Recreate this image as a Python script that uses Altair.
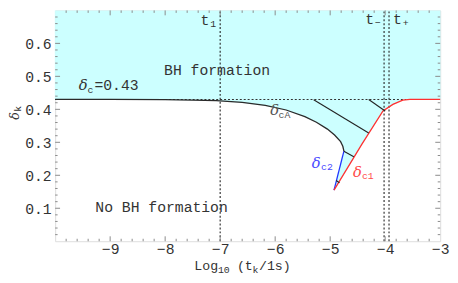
import altair as alt
import pandas as pd
import numpy as np

# ---- data ----
dcA_x = [-10.0, -9.0, -8.0, -7.5, -7.07, -6.6, -6.18, -5.8, -5.46, -5.25, -5.05, -4.92, -4.81, -4.77, -4.75]
dcA_y = [0.430, 0.430, 0.4295, 0.428, 0.4265, 0.421, 0.412, 0.398, 0.378, 0.361, 0.340, 0.322, 0.302, 0.288, 0.273]
dc2_x = [-4.75, -4.93]
dc2_y = [0.273, 0.155]
dc1_x = [-4.93, -4.42, -4.04, -3.86, -3.68, -3.55, -3.0]
dc1_y = [0.155, 0.295, 0.395, 0.415, 0.428, 0.430, 0.430]
delta_c = 0.43
dotted_end = -3.62
t_lines = [-7.0, -4.02, -3.93]
seg_x1 = [-5.30, -4.30, -4.75, -4.89]
seg_y1 = [0.429, 0.430, 0.273, 0.184]
seg_x2 = [-4.30, -4.00, -4.57, -4.83]
seg_y2 = [0.328, 0.395, 0.256, 0.177]
x_ticks = [-9, -8, -7, -6, -5, -4, -3]
y_ticks = [0.1, 0.2, 0.3, 0.4, 0.5, 0.6]

XMIN, XMAX, YMIN, YMAX = -10, -3, 0.0, 0.7
W, H = 392, 235

MONO = "Liberation Mono"
SERIF = "DejaVu Serif"

xs = alt.Scale(domain=[XMIN, XMAX], nice=False, zero=False)
ys = alt.Scale(domain=[YMIN, YMAX], nice=False, zero=False)
x_axis = alt.Axis(values=x_ticks, ticks=False, domain=False, grid=False, title=None,
                  labelFont=MONO, labelFontSize=15, labelColor="#333", labelPadding=1,
                  labelFlush=False, format="d")
y_axis = alt.Axis(values=y_ticks, ticks=False, domain=False, grid=False, title=None,
                  labelFont=MONO, labelFontSize=15, labelColor="#333", labelPadding=4,
                  format=".1f")


def X(f="x"):
    return alt.X(f"{f}:Q", scale=xs, axis=x_axis)


def Y(f="y"):
    return alt.Y(f"{f}:Q", scale=ys, axis=y_axis)


# cyan region polygon
poly_x = [XMIN] + dcA_x + dc2_x[1:] + dc1_x[1:] + [XMAX]
poly_y = [YMAX] + dcA_y + dc2_y[1:] + dc1_y[1:] + [YMAX]
poly = pd.DataFrame({"x": poly_x, "y": poly_y, "i": range(len(poly_x))})
fill = alt.Chart(poly).mark_line(fill="#ccffff", stroke="#ccffff", strokeWidth=0.5).encode(
    x=X(), y=Y(), order="i:Q")

hdot = alt.Chart(pd.DataFrame({"x": [XMIN], "x2": [dotted_end], "y": [delta_c]})).mark_rule(
    color="#333", strokeDash=[2, 2], strokeWidth=1.1).encode(x=X(), x2="x2:Q", y=Y())
vdot = alt.Chart(pd.DataFrame({"x": t_lines, "y": [YMIN] * 3, "y2": [YMAX] * 3})).mark_rule(
    color="#222", strokeDash=[2, 2], strokeWidth=1.1).encode(x=X(), y=Y(), y2="y2:Q")


def curve(cx, cy, color, w=1.3):
    d = pd.DataFrame({"x": cx, "y": cy, "i": range(len(cx))})
    return alt.Chart(d).mark_line(color=color, strokeWidth=w).encode(x=X(), y=Y(), order="i:Q")


cA = curve(dcA_x, dcA_y, "#2a2a2a")
c2 = curve(dc2_x, dc2_y, "#2233ff")
c1 = curve(dc1_x, dc1_y, "#ff3030")
segs = alt.Chart(pd.DataFrame({"x": seg_x1, "y": seg_y1, "x2": seg_x2, "y2": seg_y2})).mark_rule(
    color="#222", strokeWidth=1.1).encode(x=X(), y=Y(), x2="x2:Q", y2="y2:Q")

# inward frame ticks
xmaj = [v for v in range(-9, -3)]
xmin_ = [round(v, 2) for v in np.arange(-10, -3.001, 0.2) if abs(v - round(v)) > 1e-6]
ymaj = y_ticks
ymin_ = [round(v, 3) for v in np.arange(0.02, 0.7, 0.02) if abs(v * 10 - round(v * 10)) > 1e-6]
TC = "#8a8a8a"


def xt(vals, y0, y1):
    return alt.Chart(pd.DataFrame({"x": vals})).mark_rule(color=TC, strokeWidth=1).encode(
        x=X(), y=alt.value(y0), y2=alt.value(y1))


def yt(vals, x0, x1):
    return alt.Chart(pd.DataFrame({"y": vals})).mark_rule(color=TC, strokeWidth=1).encode(
        y=Y(), x=alt.value(x0), x2=alt.value(x1))


ticks = [xt(xmaj, H, H - 5), xt(xmin_, H, H - 2.5), xt(xmaj, 0, 5), xt(xmin_, 0, 2.5),
         yt(ymaj, 0, 5), yt(ymin_, 0, 2.5), yt(ymaj, W, W - 5), yt(ymin_, W, W - 2.5)]


def txt(xv, yv, tv, font=MONO, size=15, color="#333", style="normal", angle=0):
    d = pd.DataFrame({"x": xv, "y": yv, "t": tv})
    return alt.Chart(d).mark_text(font=font, fontSize=size, color=color, fontStyle=style,
                                  align="left", baseline="alphabetic", angle=angle).encode(
        x=X(), y=Y(), text="t:N")


main_x = [-8.02, -9.27, -9.286, -7.357, -4.363, -3.857]
main_y = [0.503, 0.089, 0.4587, 0.6553, 0.6592, 0.6592]
main_t = ["BH formation", "No BH formation", "=0.43", "t", "t", "t"]
sub_x = [-9.411, -7.179, -4.184, -3.679]
sub_y = [0.4498, 0.6494, 0.6523, 0.6523]
sub_t = ["c", "1", "\u2212", "+"]

texts = [
    txt(main_x, main_y, main_t),
    txt(sub_x, sub_y, sub_t, size=10),
    txt([-9.571], [0.4587], ["δ"], font=SERIF, style="italic"),
    # delta_cA label
    txt([-6.089], [0.3813], ["δ"], font=SERIF, style="italic", color="#555"),
    txt([-5.938], [0.3723], ["cA"], size=10, color="#555"),
    # delta_c2 label
    txt([-5.334], [0.2234], ["δ"], font=SERIF, style="italic", color="#4a4aff"),
    txt([-5.166], [0.216], ["c2"], size=10, color="#4a4aff"),
    # delta_c1 label
    txt([-4.584], [0.1951], ["δ"], font=SERIF, style="italic", color="#ff4a4a"),
    txt([-4.423], [0.1877], ["c1"], size=10, color="#ff4a4a"),
    # x title
    txt([-7.470, -6.696, -6.295], [-0.0864, -0.0864, -0.0864], ["Log", "(t", "/1s)"], size=13.5),
    txt([-7.041, -6.411], [-0.0968, -0.0968], ["10", "k"], size=10),
    # y title (rotated)
    txt([-10.655], [0.3687], ["δ"], font=SERIF, style="italic", size=13, angle=270),
    txt([-10.62], [0.3925], ["k"], size=10, angle=270),
]

chart = alt.layer(fill, hdot, vdot, cA, c2, c1, segs, *ticks, *texts).properties(
    width=W, height=H,
    autosize=alt.AutoSizeParams(type="none"),
    padding={"left": 48, "top": 0, "right": 10, "bottom": 36},
).configure_view(stroke="#8a8a8a", strokeWidth=1).configure(background="white")

chart.save("out.html", embed_options={"renderer": "svg", "actions": False})
